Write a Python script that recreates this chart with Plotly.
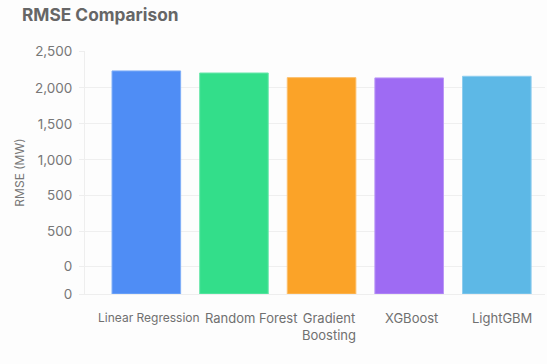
import plotly.graph_objects as go

models = ["Linear Regression", "Random Forest", "Gradient Boosting", "XGBoost", "LightGBM"]
label_text = ["<span style='font-size:12px'>Linear Regression</span>", "Random Forest",
              "Gradient<br>Boosting", "XGBoost", "LightGBM"]
rmse = [2295, 2274, 2226, 2223, 2240]
bar_colors = ["#4F8DF5", "#33DE8A", "#FBA328", "#9E6BF3", "#5DB8E6"]
edge_colors = ["#7FAEF8", "#6FE8AE", "#FCBE6A", "#BB97F6", "#8ECDEE"]

# y-axis ticks as shown in the reference (positions on a 0-2,500 linear scale)
y_tick_vals = [0, 282, 642, 1011, 1381, 1751, 2120, 2500]
y_tick_text = ["0", "0", "500", "500", "1,000", "1,500", "2,000", "2,500"]

# horizontal nudges of the category labels (px), as they appear in the reference
label_xshift = [2.5, 17.5, 7, 2, 5]

fig = go.Figure()
fig.add_trace(go.Bar(
    x=models,
    y=rmse,
    marker=dict(color=bar_colors, line=dict(color=edge_colors, width=1)),
    hoverinfo="skip",
))

for cat, txt, dx in zip(models, label_text, label_xshift):
    fig.add_annotation(
        x=cat, y=0, xref="x", yref="y",
        text=txt, showarrow=False,
        xanchor="center", yanchor="top",
        xshift=dx, yshift=-14,
        align="center",
        font=dict(size=13, color="#707070"),
    )

fig.update_layout(
    width=547,
    height=364,
    margin=dict(l=85, r=2, t=51, b=69.5),
    paper_bgcolor="#FDFDFD",
    plot_bgcolor="#FDFDFD",
    bargap=0.217,
    showlegend=False,
    font=dict(family="Inter, 'Noto Sans', sans-serif", color="#777777"),
    title=dict(
        text="<b>RMSE Comparison</b>",
        x=22 / 547, xanchor="left", xref="container",
        y=0.958, yanchor="middle", yref="container",
        font=dict(size=17.3, color="#666666"),
    ),
)

fig.update_xaxes(
    range=[-0.7, 4.55],
    showgrid=False,
    showline=True,
    linecolor="#EEEEEE",
    linewidth=1,
    ticks="",
    showticklabels=False,
)
fig.update_yaxes(
    range=[0, 2500],
    tickvals=y_tick_vals,
    ticktext=y_tick_text,
    showgrid=True,
    gridcolor="#EFEFEF",
    gridwidth=1,
    zeroline=False,
    showline=True,
    linecolor="#EEEEEE",
    ticks="outside",
    ticklen=5,
    tickcolor="#EEEEEE",
    tickfont=dict(size=13.5, color="#777777"),
    ticklabelstandoff=4,
    title=dict(text="RMSE (MW)", font=dict(size=12, color="#777777"), standoff=7),
)

fig.write_html("out.html")
